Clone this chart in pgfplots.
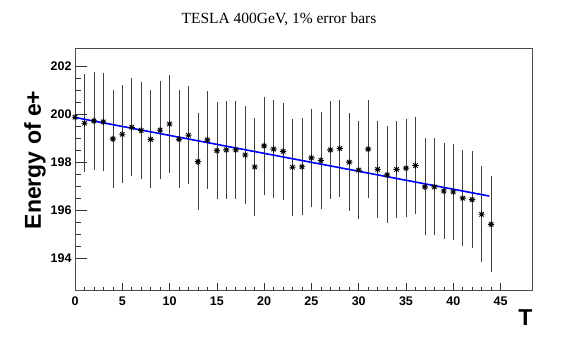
\documentclass[border=0pt]{standalone}
\usepackage{fontspec}
\setmainfont{Liberation Sans}
\newfontfamily\serifttl{Liberation Serif}
\usepackage{pgfplots}
\pgfplotsset{compat=1.18}
\usepackage{pgfplotstable}

\pgfdeclareplotmark{rootstar}{%
 \pgfpathmoveto{\pgfqpoint{-\pgfplotmarksize}{0pt}}\pgfpathlineto{\pgfqpoint{\pgfplotmarksize}{0pt}}%
 \pgfpathmoveto{\pgfqpoint{0pt}{-\pgfplotmarksize}}\pgfpathlineto{\pgfqpoint{0pt}{\pgfplotmarksize}}%
 \pgfpathmoveto{\pgfqpoint{-0.7071\pgfplotmarksize}{-0.7071\pgfplotmarksize}}\pgfpathlineto{\pgfqpoint{0.7071\pgfplotmarksize}{0.7071\pgfplotmarksize}}%
 \pgfpathmoveto{\pgfqpoint{-0.7071\pgfplotmarksize}{0.7071\pgfplotmarksize}}\pgfpathlineto{\pgfqpoint{0.7071\pgfplotmarksize}{-0.7071\pgfplotmarksize}}%
 \pgfusepathqstroke}

\pgfplotstableread{
x y e
0 199.86 2.00
1 199.61 2.00
2 199.71 2.00
3 199.67 2.00
4 198.96 1.99
5 199.15 1.99
6 199.44 1.99
7 199.31 1.99
8 198.94 1.99
9 199.32 1.99
10 199.58 2.00
11 198.94 1.99
12 199.11 1.99
13 198.01 1.98
14 198.92 1.99
15 198.47 1.98
16 198.50 1.99
17 198.50 1.99
18 198.29 1.98
19 197.79 1.98
20 198.67 1.99
21 198.53 1.99
22 198.44 1.98
23 197.78 1.98
24 197.80 1.98
25 198.17 1.98
26 198.06 1.98
27 198.50 1.99
28 198.56 1.99
29 197.99 1.98
30 197.66 1.98
31 198.53 1.99
32 197.69 1.98
33 197.46 1.97
34 197.69 1.98
35 197.74 1.98
36 197.85 1.98
37 196.96 1.97
38 196.96 1.97
39 196.79 1.97
40 196.75 1.97
41 196.49 1.96
42 196.43 1.96
43 195.82 1.96
44 195.40 1.95
}\datatable

\begin{document}
\begin{tikzpicture}
\path[use as bounding box] (0,0) rectangle (570bp,338bp);
\begin{axis}[
  at={(75bp,47.3bp)}, anchor=south west,
  scale only axis, width=457.7bp, height=241.7bp,
  xmin=0, xmax=48.4, ymin=192.64, ymax=202.7,
  xtick={0,5,...,45}, minor x tick num=4,
  ytick={194,196,198,200,202}, minor y tick num=3,
  tick align=inside, xtick pos=bottom, ytick pos=left,
  xtick style={/pgfplots/major tick length=7.5bp, /pgfplots/minor tick length=3.8bp, line width=0.6bp, black!80},
  ytick style={/pgfplots/major tick length=12.3bp, /pgfplots/minor tick length=6.2bp, line width=0.6bp, black!80},
  axis line style={line width=1bp, black!70},
  /pgf/number format/assume math mode=true,
  /pgf/number format/.cd, 1000 sep={}, /pgfplots/.cd,
  tick label style={font=\fontsize{12.5bp}{14bp}\bfseries\selectfont, inner sep=0pt},
  xticklabel style={anchor=north, yshift=-6bp},
  yticklabel style={anchor=east, xshift=-3.3bp},
  xlabel={T},
  xlabel style={at={(rel axis cs:1,0)}, anchor=base east, yshift=-34.3bp, inner sep=0pt, font=\fontsize{23bp}{25bp}\bfseries\selectfont},
  ylabel={Energy of e+},
  ylabel style={at={(axis description cs:-0.0743,0.541)}, rotate=0, anchor=base, inner sep=0pt, font=\fontsize{23bp}{25bp}\bfseries\selectfont},
  clip=false,
]
\addplot+[only marks, mark=rootstar, mark size=3.1bp, black,
  mark options={line width=0.9bp, black},
  error bars/.cd, y dir=both, y explicit,
  error bar style={line width=0.6bp, black!75},
  error mark options={mark size=1.1bp, line width=0.6bp, black!75}]
  table[x=x, y=y, y error=e]{\datatable};
\addplot[blue, line width=1.6bp, no marks] coordinates {(0,199.85) (43.8,196.58)};
\end{axis}
\node[anchor=base, font=\serifttl\fontsize{15.5bp}{18bp}\selectfont] at (279bp,314bp) {TESLA 400GeV, 1\% error bars};
\end{tikzpicture}
\end{document}
